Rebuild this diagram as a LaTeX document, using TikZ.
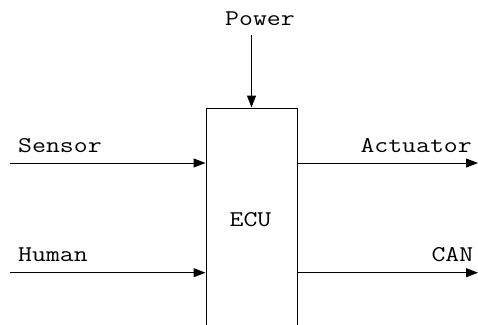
\documentclass[tikz,border=0pt]{standalone}
\usetikzlibrary{arrows.meta}
\begin{document}
\begin{tikzpicture}[x=1pt,y=-1pt,
  conn/.style={line width=1pt,-{Triangle[length=12pt,width=9pt]}},
  lab/.style={font=\ttfamily\fontsize{22.5}{22.5}\selectfont,inner sep=0pt,xscale=1.2},
  blk/.style={draw,line width=1pt,minimum width=91pt,minimum height=240pt,inner sep=0pt}]
\useasboundingbox (0,0) rectangle (478,324);
\node[blk] (ecu) at (251.5,228) {};
\node[lab,anchor=base] (ecutext) at (250.5,226.5) {ECU};
% power
\coordinate (pw) at (251.5,35);
\node[lab,anchor=base west] (power) at (225,25.5) {Power};
\draw[conn] (pw) -- (pw |- ecu.north);
% sensor
\coordinate (s0) at (10,163);
\node[lab,anchor=base west] (sensor) at (18,152.3) {Sensor};
\draw[conn] (s0) -- (s0 -| ecu.west);
% human
\coordinate (h0) at (10,272.7);
\node[lab,anchor=base west] (human) at (18,261) {Human};
\draw[conn] (h0) -- (h0 -| ecu.west);
% actuator
\coordinate (a1) at (478,163);
\node[lab,anchor=base east] (act) at (472,152.3) {Actuator};
\draw[conn] (a1 -| ecu.east) -- (a1);
% CAN
\coordinate (c1) at (478,272.7);
\node[lab,anchor=base east] (can) at (473.5,261) {CAN};
\draw[conn] (c1 -| ecu.east) -- (c1);
\end{tikzpicture}
\end{document}
